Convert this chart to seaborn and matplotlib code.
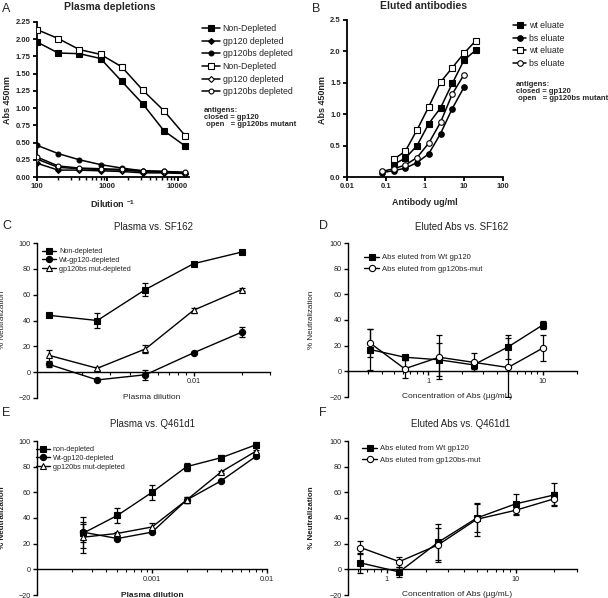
import numpy as np
import matplotlib
matplotlib.use("Agg")
import matplotlib.pyplot as plt
import seaborn as sns
from matplotlib.ticker import LogLocator, NullFormatter

sns.set_theme(style="ticks")
plt.rcParams['font.family'] = ['Liberation Sans', 'DejaVu Sans']
plt.rcParams['mathtext.default'] = 'regular'

# ---- panel A: plasma depletions (ELISA) ----
a_dilution = [100, 200, 400, 800, 1600, 3200, 6400, 12800]
a_nondep_wt = [1.96, 1.80, 1.79, 1.72, 1.39, 1.06, 0.67, 0.45]
a_gp120dep_wt = [0.20, 0.10, 0.10, 0.09, 0.08, 0.06, 0.06, 0.05]
a_bsdep_wt = [0.46, 0.34, 0.25, 0.18, 0.13, 0.09, 0.08, 0.06]
a_nondep_bs = [2.14, 2.01, 1.85, 1.78, 1.60, 1.26, 0.96, 0.60]
a_gp120dep_bs = [0.26, 0.14, 0.12, 0.11, 0.10, 0.08, 0.07, 0.06]
a_bsdep_bs = [0.29, 0.16, 0.13, 0.12, 0.11, 0.09, 0.08, 0.07]

# ---- panel B: eluted antibodies (ELISA) ----
b_conc_wt = [0.156, 0.3125, 0.625, 1.25, 2.5, 5, 10, 20]
b_wt_closed = [0.20, 0.30, 0.50, 0.85, 1.10, 1.49, 1.86, 2.02]
b_wt_open = [0.28, 0.41, 0.75, 1.12, 1.51, 1.74, 1.97, 2.17]
b_conc_bs = [0.078, 0.156, 0.3125, 0.625, 1.25, 2.5, 5, 10]
b_bs_closed = [0.07, 0.10, 0.14, 0.23, 0.37, 0.69, 1.09, 1.43]
b_bs_open = [0.09, 0.13, 0.19, 0.31, 0.54, 0.87, 1.32, 1.63]

# ---- panel C: plasma vs SF162 ----
c_dilution = [0.00125, 0.0025, 0.005, 0.01, 0.02]
c_nondep = [44, 40, 64, 84, 93]
c_nondep_err = [1, 6, 5, 1, 1]
c_wtdep = [6, -6, -2, 15, 31]
c_wtdep_err = [2, 0.5, 4, 0.5, 4]
c_bsdep = [13, 3, 18, 48, 64]
c_bsdep_err = [4, 1, 3, 2, 1]

# ---- panel D: eluted Abs vs SF162 ----
d_conc = [0.3125, 0.625, 1.25, 2.5, 5, 10]
d_wt = [17, 11, 9, 5, 19, 36]
d_wt_err = [16, 2, 13, 3, 9, 3]
d_bs = [22, 2, 11, 7, 3, 18]
d_bs_err = [11, 7, 17, 7, 23, 10]

# ---- panel E: plasma vs Q461d1 ----
e_dilution = [0.00025, 0.0005, 0.001, 0.002, 0.004, 0.008]
e_nondep = [28, 42, 60, 80, 87, 97]
e_nondep_err = [7, 6, 6, 3, 2, 2]
e_wtdep = [29, 24, 29, 54, 69, 88]
e_wtdep_err = [12, 1, 1, 2, 1, 1]
e_bsdep = [25, 28, 33, 54, 76, 92]
e_bsdep_err = [12, 1, 3, 2, 1, 1]

# ---- panel F: eluted Abs vs Q461d1 ----
f_conc = [0.625, 1.25, 2.5, 5, 10, 20]
f_wt = [5, -2, 21, 40, 51, 58]
f_wt_err = [8, 4, 14, 11, 8, 9]
f_bs = [17, 6, 19, 39, 46, 55]
f_bs_err = [5, 4, 13, 13, 4, 5]

W, H = 608, 598
fig = plt.figure(figsize=(W / 100, H / 100), dpi=100)
GREY = '#222222'


def add_ax(x0, y0, x1, y1):
    return fig.add_axes([x0 / W, 1 - y1 / H, (x1 - x0) / W, (y1 - y0) / H])


def ftext(x, y, s, **kw):
    fig.text(x / W, 1 - y / H, s, **kw)


def series(ax, x, y, marker, filled, label, ms=4.5, lw=1.0, err=None):
    if err is not None:
        ax.errorbar(x, y, yerr=err, fmt='none', ecolor='black', elinewidth=0.9,
                    capsize=2.3, capthick=0.9, zorder=1)
    sns.lineplot(x=x, y=y, ax=ax, color='black', marker=marker, markersize=ms,
                 markerfacecolor='black' if filled else 'white',
                 markeredgecolor='black', markeredgewidth=0.8, linewidth=lw,
                 label=label, zorder=3)


def style_ax(ax, lw=1.0):
    sns.despine(ax=ax)
    for s in ['left', 'bottom']:
        ax.spines[s].set_linewidth(lw)
        ax.spines[s].set_color('black')
    ax.tick_params(axis='both', which='major', direction='out', length=3,
                   width=lw, color='black', pad=1.5)
    ax.tick_params(axis='both', which='minor', direction='out', length=1.8,
                   width=lw * 0.8, color='black')
    ax.grid(False)


def legend(ax, x, y, fs, spacing, hl=1.8):
    ax.legend(loc='upper left', bbox_to_anchor=(x / W, 1 - y / H),
              bbox_transform=fig.transFigure, frameon=False, fontsize=fs,
              handlelength=hl, handletextpad=0.35, labelspacing=spacing,
              borderpad=0, borderaxespad=0)


# ================= A =================
axA = add_ax(37, 22, 189, 177)
series(axA, a_dilution, a_nondep_wt, 's', True, 'Non-Depleted', ms=4, lw=1.1)
series(axA, a_dilution, a_gp120dep_wt, 'D', True, 'gp120 depleted', ms=3, lw=1.1)
series(axA, a_dilution, a_bsdep_wt, 'o', True, 'gp120bs depleted', ms=3.5, lw=1.1)
series(axA, a_dilution, a_nondep_bs, 's', False, 'Non-Depleted', ms=4, lw=1.1)
series(axA, a_dilution, a_gp120dep_bs, 'D', False, 'gp120 depleted', ms=3, lw=1.1)
series(axA, a_dilution, a_bsdep_bs, 'o', False, 'gp120bs depleted', ms=3.5, lw=1.1)
axA.set_xscale('log')
axA.set_xlim(100, 14500)
axA.set_ylim(0, 2.25)
axA.set_yticks(np.arange(0, 2.26, 0.25))
axA.set_yticklabels([f'{v:.2f}' for v in np.arange(0, 2.26, 0.25)])
axA.set_xticks([100, 1000, 10000])
axA.set_xticklabels(['100', '1000', '10000'])
axA.xaxis.set_minor_locator(LogLocator(base=10, subs=np.arange(2, 10), numticks=20))
axA.xaxis.set_minor_formatter(NullFormatter())
style_ax(axA, lw=1.3)
for t in axA.get_xticklabels() + axA.get_yticklabels():
    t.set_fontsize(5.5)
    t.set_fontweight('bold')
axA.set_ylabel('Abs 450nm', fontsize=6.5, fontweight='bold')
axA.yaxis.set_label_coords(12 / W, 1 - 100 / H, transform=fig.transFigure)
axA.set_xlabel('Dilution $^{-1}$', fontsize=6.5, fontweight='bold')
axA.xaxis.set_label_coords(113 / W, 1 - 198 / H, transform=fig.transFigure)
legend(axA, 202, 24, 6.3, 0.42, hl=2.0)
ftext(204, 107, 'antigens:\nclosed = gp120\n open   = gp120bs mutant', fontsize=5.5,
      fontweight='bold', va='top', linespacing=1.05)
ftext(110, 7, 'Plasma depletions', fontsize=7.5, fontweight='bold', ha='center', va='center')
ftext(2, 9, 'A', fontsize=9, va='center')

# ================= B =================
axB = add_ax(347, 20, 503, 177)
series(axB, b_conc_wt, b_wt_closed, 's', True, 'wt eluate', ms=4.2, lw=1.1)
series(axB, b_conc_bs, b_bs_closed, 'o', True, 'bs eluate', ms=4, lw=1.1)
series(axB, b_conc_wt, b_wt_open, 's', False, 'wt eluate', ms=4.2, lw=1.1)
series(axB, b_conc_bs, b_bs_open, 'o', False, 'bs eluate', ms=4, lw=1.1)
axB.set_xscale('log')
axB.set_xlim(0.01, 100)
axB.set_ylim(0, 2.5)
axB.set_yticks(np.arange(0, 2.51, 0.5))
axB.set_yticklabels([f'{v:.1f}' for v in np.arange(0, 2.51, 0.5)])
axB.set_xticks([0.01, 0.1, 1, 10, 100])
axB.set_xticklabels(['0.01', '0.1', '1', '10', '100'])
axB.xaxis.set_minor_locator(plt.NullLocator())
style_ax(axB, lw=1.3)
for t in axB.get_xticklabels() + axB.get_yticklabels():
    t.set_fontsize(5.5)
    t.set_fontweight('bold')
axB.set_ylabel('Abs 450nm', fontsize=6.5, fontweight='bold')
axB.yaxis.set_label_coords(327 / W, 1 - 100 / H, transform=fig.transFigure)
axB.set_xlabel('Antibody ug/ml', fontsize=6.5, fontweight='bold')
axB.xaxis.set_label_coords(425 / W, 1 - 198 / H, transform=fig.transFigure)
legend(axB, 513, 21, 6.3, 0.42, hl=1.5)
ftext(516, 81, 'antigens:\nclosed = gp120\n open   = gp120bs mutant', fontsize=5.5,
      fontweight='bold', va='top', linespacing=1.05)
ftext(424, 6, 'Eluted antibodies', fontsize=7.5, fontweight='bold', ha='center', va='center')
ftext(312, 9, 'B', fontsize=9, va='center')


# ============ neutralization panels ============
def neut_axes(ax, xlim, major, labels, bold_x=False, bold_y=False):
    ax.set_xscale('log')
    ax.set_xlim(*xlim)
    ax.set_ylim(-20, 100)
    ax.set_yticks([-20, 0, 20, 40, 60, 80, 100])
    ax.set_xticks(major)
    ax.set_xticklabels(labels)
    ax.xaxis.set_minor_locator(LogLocator(base=10, subs=np.arange(2, 10), numticks=20))
    ax.xaxis.set_minor_formatter(NullFormatter())
    style_ax(ax, lw=1.0)
    ax.spines['bottom'].set_position(('data', 0))
    for t in ax.get_xticklabels() + ax.get_yticklabels():
        t.set_fontsize(5.2)
        t.set_color(GREY)


# ================= C =================
axC = add_ax(37, 243, 270, 398)
series(axC, c_dilution, c_nondep, 's', True, 'Non-depleted', err=c_nondep_err)
series(axC, c_dilution, c_wtdep, 'o', True, 'Wt-gp120-depleted', err=c_wtdep_err)
series(axC, c_dilution, c_bsdep, '^', False, 'gp120bs mut-depleted', err=c_bsdep_err)
neut_axes(axC, (0.00105, 0.03), [0.01], ['0.01'])
axC.set_ylabel('% Neutralization', fontsize=5.8, color=GREY)
axC.yaxis.set_label_coords(6 / W, 1 - 320 / H, transform=fig.transFigure)
axC.set_xlabel('Plasma dilution', fontsize=6, color=GREY)
axC.xaxis.set_label_coords(152 / W, 1 - 394 / H, transform=fig.transFigure)
legend(axC, 42, 248, 5.2, 0.25, hl=2.0)
ftext(153, 227, 'Plasma vs. SF162', fontsize=7, ha='center', va='center', color=GREY)
ftext(2, 226, 'C', fontsize=9, va='center')

# ================= D =================
axD = add_ax(348, 243, 577, 397)
series(axD, d_conc, d_wt, 's', True, 'Abs eluted from Wt gp120', err=d_wt_err)
series(axD, d_conc, d_bs, 'o', False, 'Abs eluted from gp120bs-mut', err=d_bs_err)
neut_axes(axD, (0.2, 20), [1, 10], ['1', '10'])
axD.set_ylabel('% Neutralization', fontsize=5.8, color=GREY)
axD.yaxis.set_label_coords(315 / W, 1 - 320 / H, transform=fig.transFigure)
axD.set_xlabel('Concentration of Abs (\u00b5g/mL)', fontsize=6, color=GREY)
axD.xaxis.set_label_coords(457 / W, 1 - 393 / H, transform=fig.transFigure)
legend(axD, 364, 254, 5.5, 0.55, hl=2.0)
ftext(462, 227, 'Eluted Abs vs. SF162', fontsize=7, ha='center', va='center', color=GREY)
ftext(319, 226, 'D', fontsize=9, va='center')

# ================= E =================
axE = add_ax(37, 441, 267, 595)
series(axE, e_dilution, e_nondep, 's', True, 'non-depleted', err=e_nondep_err)
series(axE, e_dilution, e_wtdep, 'o', True, 'Wt-gp120-depleted', err=e_wtdep_err)
series(axE, e_dilution, e_bsdep, '^', False, 'gp120bs mut-depleted', err=e_bsdep_err)
neut_axes(axE, (0.0001, 0.01), [0.001, 0.01], ['0.001', '0.01'])
axE.set_ylabel('% Neutralization', fontsize=5.8, fontweight='bold', color=GREY)
axE.yaxis.set_label_coords(6 / W, 1 - 518 / H, transform=fig.transFigure)
axE.set_xlabel('Plasma dilution', fontsize=6, fontweight='bold', color=GREY)
axE.xaxis.set_label_coords(152 / W, 1 - 592 / H, transform=fig.transFigure)
legend(axE, 36, 446, 5.2, 0.25, hl=2.0)
ftext(152, 424, 'Plasma vs. Q461d1', fontsize=7, ha='center', va='center', color=GREY)
ftext(2, 413, 'E', fontsize=9, va='center')

# ================= F =================
axF = add_ax(348, 441, 577, 595)
series(axF, f_conc, f_wt, 's', True, 'Abs eluted from Wt gp120', err=f_wt_err)
series(axF, f_conc, f_bs, 'o', False, 'Abs eluted from gp120bs-mut', err=f_bs_err)
neut_axes(axF, (0.5, 30), [1, 10], ['1', '10'])
axF.set_ylabel('% Neutralization', fontsize=5.8, fontweight='bold', color=GREY)
axF.yaxis.set_label_coords(315 / W, 1 - 518 / H, transform=fig.transFigure)
axF.set_xlabel('Concentration of Abs (\u00b5g/mL)', fontsize=6, color=GREY)
axF.xaxis.set_label_coords(457 / W, 1 - 591 / H, transform=fig.transFigure)
legend(axF, 362, 445, 5.5, 0.55, hl=2.0)
ftext(461, 424, 'Eluted Abs vs. Q461d1', fontsize=7, ha='center', va='center', color=GREY)
ftext(319, 413, 'F', fontsize=9, va='center')

fig.savefig('out.png', dpi=100)
